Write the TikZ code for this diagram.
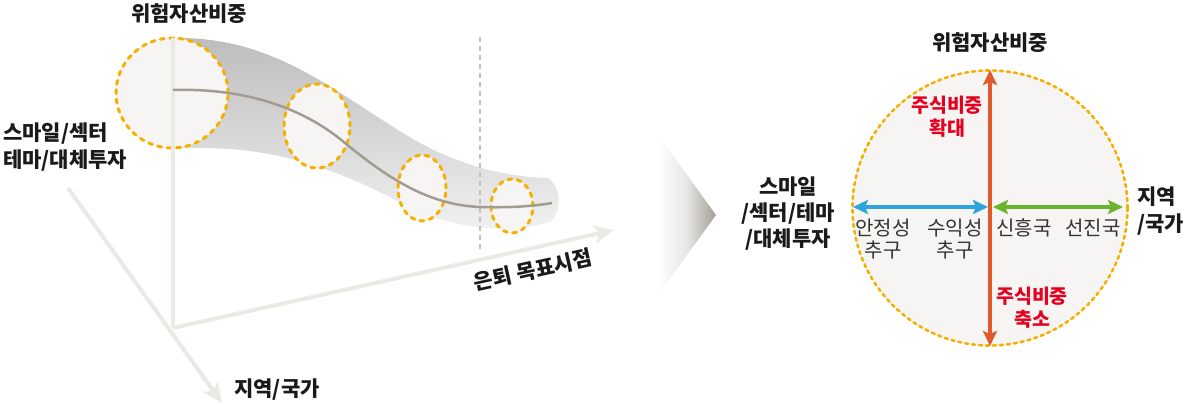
\documentclass[tikz,border=0pt]{standalone}
\usepackage{fontspec}
\setmainfont{Noto Sans CJK KR}
\usetikzlibrary{arrows.meta,shapes.geometric}
\definecolor{axisc}{HTML}{EBE9E4}
\definecolor{dashor}{HTML}{F5B000}
\definecolor{circfill}{HTML}{F6F5F3}
\definecolor{curvec}{HTML}{A29C92}
\definecolor{vdash}{HTML}{C4C0BA}
\definecolor{redarr}{HTML}{E05A2B}
\definecolor{bluearr}{HTML}{2EA3DC}
\definecolor{greenarr}{HTML}{6AB42D}
\definecolor{redtxt}{HTML}{E60020}
\definecolor{graytxt}{HTML}{333333}
\definecolor{txt}{HTML}{1A1A1A}
\definecolor{tridark}{HTML}{A39E94}
\tikzset{
  axisline/.style={draw=axisc,line width=4pt,-{Stealth[length=20pt,width=18pt,inset=5pt]}},
  bubble/.style={draw=dashor,fill=circfill,line width=3pt,dash pattern=on 4pt off 5.5pt,line cap=round},
  lbl/.style={text=txt,font=\bfseries\fontsize{21}{27}\selectfont,inner sep=0pt},
  redlbl/.style={text=redtxt,font=\bfseries\fontsize{19.5}{23}\selectfont,align=center,inner sep=0pt},
  graylbl/.style={text=graytxt,font=\fontsize{20}{22}\selectfont,align=center,inner sep=0pt},
  dblarrow/.style={line width=4pt,{Stealth[length=15pt,width=14pt,inset=3pt]}-{Stealth[length=15pt,width=14pt,inset=3pt]}},
}
\begin{document}
\begin{tikzpicture}[x=1pt,y=-1pt]
\useasboundingbox (0,0) rectangle (1200,406);
% ---------- left diagram ----------
% tube
\path[top color=black!26,bottom color=black!5]
  (173,38) .. controls (280,36) and (340,98) .. (420,143)
  .. controls (470,170) and (515,177) .. (548,178)
  .. controls (562,188) and (562,212) .. (550,222)
  .. controls (505,236) and (445,228) .. (395,200)
  .. controls (320,160) and (260,148) .. (200,148) -- (173,148) -- cycle;
% dashed vertical line
\coordinate (vt) at (480,37);
\coordinate (vb) at (480,252);
\draw[vdash,line width=2pt,dash pattern=on 5pt off 4pt] (vt) -- (vb);
% first bubble
\node[bubble,ellipse,minimum width=112pt,minimum height=110pt,inner sep=0pt] (c1) at (172,93) {};
% axes
\coordinate (O) at (173,328);
\coordinate (vtop) at (173,38);
\coordinate (xend) at (614,230);
\coordinate (dstart) at (68,188);
\coordinate (dend) at (222,403);
\draw[draw=axisc,line width=4pt] (O) -- (vtop);
\draw[axisline] (O) -- (xend);
\draw[axisline] (dstart) -- (dend);
% bubbles
\node[bubble,ellipse,minimum width=66pt,minimum height=84pt,inner sep=0pt] (c2) at (317,126) {};
\node[bubble,ellipse,minimum width=48pt,minimum height=66pt,inner sep=0pt] (c3) at (422,188) {};
\node[bubble,ellipse,minimum width=42pt,minimum height=54pt,inner sep=0pt] (c4) at (512,206) {};
% curve
\draw[curvec,line width=2.5pt]
  (173,90) .. controls (240,88) and (300,105) .. (345,143)
  .. controls (390,180) and (430,205) .. (480,207)
  .. controls (510,208) and (535,206) .. (552,203);
% labels
\node[lbl] (t1) at (189,14) {위험자산비중};
\node[lbl,anchor=west] (t2) at (3,134) {스마일/섹터};
\node[lbl,anchor=west] (t3) at (3,161) {테마/대체투자};
\node[lbl] (t4) at (277,390) {지역/국가};
\node[lbl,rotate=12.4] (t5) at (533,270) {은퇴 목표시점};
% ---------- triangle ----------
\path[left color=white,right color=tridark,middle color=black!10]
  (658,135) -- (716,215) -- (658,295) -- cycle;
% ---------- right diagram ----------
\node[circle,draw=dashor,fill=circfill,line width=2.6pt,dash pattern=on 3pt off 4pt,line cap=round,minimum size=275pt,inner sep=0pt] (C) at (990,208) {};
\coordinate (rt) at (990,70);
\coordinate (rb) at (990,346);
\coordinate (bl) at (853,207);
\coordinate (br) at (988,207);
\coordinate (gl) at (993,207);
\coordinate (gr) at (1123,207);
\draw[dblarrow,bluearr,line width=3.5pt] (bl) -- (br);
\draw[dblarrow,greenarr,line width=3.5pt] (gl) -- (gr);
\draw[dblarrow,redarr] (rt) -- (rb);
\node[lbl] (r1) at (990,43) {위험자산비중};
\node[redlbl] (r2) at (947,116.5) {주식비중\\확대};
\node[redlbl] (r3) at (1032,307.5) {주식비중\\축소};
\node[lbl,align=center,font=\bfseries\fontsize{21}{26}\selectfont] (r4) at (788,214) {스마일\\/섹터/테마\\/대체투자};
\node[lbl,align=left,anchor=west,font=\bfseries\fontsize{21}{27}\selectfont] (r5) at (1137,211) {지역\\/국가};
\node[graylbl] (g1) at (883,239) {안정성\\추구};
\node[graylbl] (g2) at (955,239) {수익성\\추구};
\node[graylbl] (g3) at (1024,228) {신흥국};
\node[graylbl] (g4) at (1093,228) {선진국};
\end{tikzpicture}
\end{document}
